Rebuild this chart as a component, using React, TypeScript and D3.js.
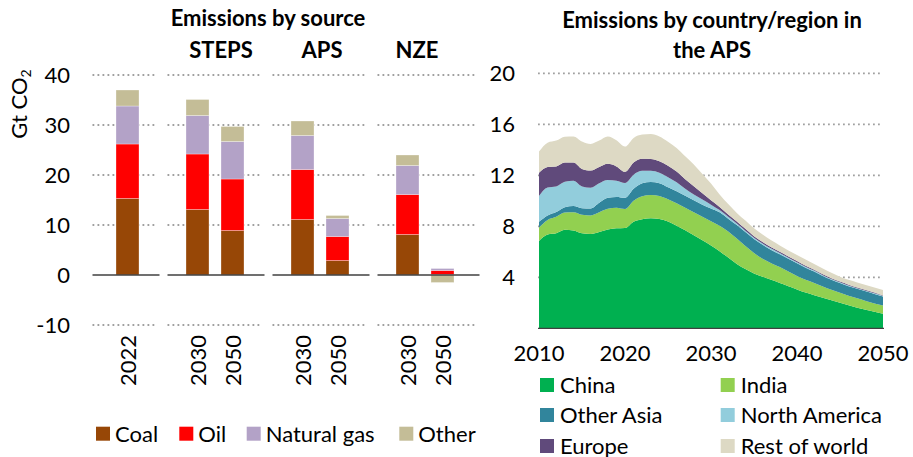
import React from 'react';
import * as d3 from 'd3';

// ---------- Left panel data (Gt CO2) ----------
const barLabels = ['2022', '2030', '2050', '2030', '2050', '2030', '2050'];
const barSlots = [1, 3, 4, 6, 7, 9, 10];
const scenarioNames = ['STEPS', 'APS', 'NZE'];
const coal = [15.3, 13.1, 8.9, 11.1, 2.9, 8.1, 0.1];
const oil = [10.9, 11.1, 10.3, 10.0, 4.8, 8.0, 0.8];
const naturalGas = [7.6, 7.7, 7.5, 6.8, 3.6, 5.8, 0.4];
const otherSrc = [3.2, 3.2, 3.0, 2.9, 0.6, 2.1, -1.5];
const sourceKeys = ['Coal', 'Oil', 'Natural gas', 'Other'];
const sourceColors = ['#974706', '#FF0000', '#B3A2C7', '#C4BD97'];
const leftTicks = [-10, 0, 10, 20, 30, 40];

// ---------- Right panel data (Gt CO2, APS) ----------
const years = [
  2010, 2011, 2012, 2013, 2014, 2015, 2016, 2017, 2018, 2019, 2020, 2021, 2022, 2023,
  2024, 2025, 2026, 2027, 2028, 2029, 2030, 2031, 2032, 2033, 2034, 2035, 2036, 2037,
  2038, 2039, 2040, 2041, 2042, 2043, 2044, 2045, 2046, 2047, 2048, 2049, 2050,
];
const china = [
  6.85, 7.35, 7.45, 7.72, 7.68, 7.45, 7.4, 7.56, 7.75, 7.84, 7.86, 8.36, 8.55, 8.63,
  8.57, 8.37, 8.05, 7.7, 7.3, 6.9, 6.5, 6.05, 5.55, 5.05, 4.65, 4.3, 4.05, 3.8,
  3.55, 3.3, 3.05, 2.8, 2.6, 2.4, 2.2, 2.0, 1.8, 1.62, 1.45, 1.3, 1.15,
];
const india = [
  1.05, 1.15, 1.3, 1.36, 1.42, 1.45, 1.45, 1.54, 1.63, 1.61, 1.49, 1.64, 1.8, 1.83,
  1.81, 1.75, 1.75, 1.75, 1.8, 1.85, 1.9, 2.0, 2.05, 2.0, 1.8, 1.6, 1.4, 1.3,
  1.25, 1.15, 1.05, 1.0, 0.95, 0.88, 0.82, 0.78, 0.75, 0.73, 0.7, 0.65, 0.63,
];
const otherAsia = [
  0.45, 0.35, 0.37, 0.42, 0.5, 0.52, 0.55, 0.75, 0.85, 0.85, 0.89, 0.95, 1.03, 1.02,
  1.0, 0.95, 0.95, 0.95, 0.95, 0.95, 1.0, 1.05, 1.0, 1.05, 1.1, 1.1, 1.1, 1.05,
  1.0, 1.0, 1.0, 0.95, 0.9, 0.82, 0.78, 0.77, 0.75, 0.75, 0.75, 0.75, 0.72,
];
const northAmerica = [
  2.03, 2.2, 2.01, 2.0, 1.97, 1.71, 1.63, 1.53, 1.4, 1.28, 1.16, 1.1, 0.97, 0.87,
  0.82, 0.78, 0.7, 0.55, 0.45, 0.4, 0.3, 0.17, 0.14, 0.12, 0.1, 0.1, 0.1, 0.1,
  0.1, 0.09, 0.09, 0.08, 0.08, 0.07, 0.07, 0.06, 0.06, 0.05, 0.05, 0.05, 0.04,
];
const europe = [
  1.82, 1.6, 1.57, 1.5, 1.43, 1.37, 1.34, 1.27, 1.27, 1.12, 0.87, 0.95, 0.95, 0.93,
  0.9, 0.9, 0.85, 0.75, 0.65, 0.5, 0.35, 0.25, 0.19, 0.16, 0.15, 0.12, 0.11, 0.1,
  0.1, 0.09, 0.09, 0.08, 0.07, 0.07, 0.06, 0.06, 0.06, 0.05, 0.05, 0.05, 0.04,
];
const restOfWorld = [
  1.66, 1.91, 2.02, 2.03, 2.05, 2.15, 2.09, 2.07, 2.14, 2.04, 1.98, 1.93, 1.9, 1.96,
  1.95, 1.89, 1.85, 1.8, 1.7, 1.5, 1.3, 0.98, 0.82, 0.67, 0.65, 0.63, 0.59, 0.55,
  0.5, 0.47, 0.47, 0.49, 0.45, 0.46, 0.42, 0.38, 0.38, 0.4, 0.4, 0.4, 0.42,
];
const regionKeys = ['China', 'India', 'Other Asia', 'North America', 'Europe', 'Rest of world'];
const regionColors = ['#00B050', '#92D050', '#31859C', '#92CDDC', '#604A7B', '#DDD9C4'];
const rightTicks = [4, 8, 12, 16, 20];
const xTicks = [2010, 2020, 2030, 2040, 2050];

const FONT = 'Lato, "Noto Sans", sans-serif';
const FS = 22;
const GRID = '#a0a0a0';

export default function App() {
  // ----- left scales -----
  const yL = d3.scaleLinear().domain([-10, 40]).range([325, 75]);
  const slot = d3.scaleLinear().domain([0, 10]).range([92.5, 442.5]);
  const barW = 23;
  const panels: [number, number][] = [[0, 2], [2, 5], [5, 8], [8, 11]];
  const panelX = panels.map(([a, b]) => [slot(a) + (a === 0 ? 0 : 5), slot(b) - (b === 11 ? 0 : 5)]);

  const barTable = barLabels.map((lab, i) => ({
    i,
    Coal: coal[i],
    Oil: oil[i],
    'Natural gas': naturalGas[i],
    Other: otherSrc[i],
  }));
  const barStack = d3.stack<any>().keys(sourceKeys).offset(d3.stackOffsetDiverging)(barTable);

  // ----- right scales -----
  const yR = d3.scaleLinear().domain([0, 20]).range([328.3, 73.3]);
  const xR = d3.scaleLinear().domain([2010, 2050]).range([539, 883]);
  const regionSeries = [china, india, otherAsia, northAmerica, europe, restOfWorld];
  const areaTable = years.map((yr, j) => {
    const row: any = { year: yr };
    regionKeys.forEach((k, r) => (row[k] = regionSeries[r][j]));
    return row;
  });
  const areaStack = d3.stack<any>().keys(regionKeys)(areaTable);
  const area = d3
    .area<any>()
    .x((d) => xR(d.data.year))
    .y0((d) => yR(d[0]))
    .y1((d) => yR(d[1]))
    .curve(d3.curveMonotoneX);

  const scenarioCenters = [221, 322, 417];

  const leftLegend = [
    { x: 96 },
    { x: 179.3 },
    { x: 246.7 },
    { x: 399.3 },
  ];
  const rightLegendPos = [
    [540, 378],
    [720.7, 378],
    [540, 408],
    [720.7, 408],
    [540, 439],
    [720.7, 439],
  ];

  return (
    <svg
      width={913}
      height={457}
      style={{ position: 'absolute', left: 0, top: 0, background: '#fff' }}
      fontFamily={FONT}
    >
      <rect width={913} height={457} fill="#fff" />
      {/* ===== Left chart ===== */}
      <text x={268} y={26} textAnchor="middle" fontWeight="bold" fontSize={FS}>
        Emissions by source
      </text>
      {scenarioNames.map((s, i) => (
        <text key={s} x={scenarioCenters[i]} y={58} textAnchor="middle" fontWeight="bold" fontSize={FS}>
          {s}
        </text>
      ))}
      <text transform="translate(27,104) rotate(-90)" textAnchor="middle" fontSize={FS}>
        Gt CO<tspan fontSize={14} dy={4}>2</tspan>
      </text>
      {leftTicks.map((t) => (
        <text key={t} x={70} y={yL(t)} dy="0.36em" textAnchor="end" fontSize={FS}>
          {t}
        </text>
      ))}
      {leftTicks
        .filter((t) => t !== 0)
        .map((t) =>
          panelX.map(([x1, x2], p) => (
            <line
              key={`g${t}-${p}`}
              x1={x1}
              x2={x2}
              y1={yL(t)}
              y2={yL(t)}
              stroke={GRID}
              strokeWidth={1.8}
              strokeDasharray="1.8 3.2"
            />
          ))
        )}
      {barStack.map((layer, k) => (
        <g key={layer.key} fill={sourceColors[k]}>
          {layer.map((d, i) => {
            const cx = slot(barSlots[i]);
            const y1 = yL(Math.max(d[0], d[1]));
            const y2 = yL(Math.min(d[0], d[1]));
            return (
              <rect
                key={i}
                x={cx - barW / 2}
                y={y1}
                width={barW}
                height={Math.max(0, y2 - y1)}
                stroke="#ffffff"
                strokeOpacity={0.5}
                strokeWidth={0.6}
              />
            );
          })}
        </g>
      ))}
      {panelX.map(([x1, x2], p) => (
        <line key={`b${p}`} x1={x1} x2={x2 + 2} y1={yL(0)} y2={yL(0)} stroke="#404040" strokeWidth={1.3} />
      ))}
      {barLabels.map((lab, i) => (
        <text
          key={`xl${i}`}
          transform={`translate(${slot(barSlots[i]) + 8},335) rotate(-90)`}
          textAnchor="end"
          fontSize={FS}
        >
          {lab}
        </text>
      ))}
      {sourceKeys.map((k, i) => (
        <g key={k}>
          <rect x={leftLegend[i].x} y={426.7} width={14} height={14} fill={sourceColors[i]} />
          <text x={leftLegend[i].x + 19} y={441.5} fontSize={FS}>
            {k}
          </text>
        </g>
      ))}

      {/* ===== Right chart ===== */}
      <text x={712} y={28} textAnchor="middle" fontWeight="bold" fontSize={FS}>
        Emissions by country/region in
      </text>
      <text x={712} y={58} textAnchor="middle" fontWeight="bold" fontSize={FS}>
        the APS
      </text>
      {rightTicks.map((t) => (
        <g key={t}>
          <line
            x1={538}
            x2={883}
            y1={yR(t)}
            y2={yR(t)}
            stroke={GRID}
            strokeWidth={1.8}
            strokeDasharray="1.8 3.2"
          />
          <text x={515} y={yR(t)} dy="0.36em" textAnchor="end" fontSize={FS}>
            {t}
          </text>
        </g>
      ))}
      {areaStack.map((layer, k) => (
        <path key={layer.key} d={area(layer) || ''} fill={regionColors[k]} />
      ))}
      <line x1={538} x2={884} y1={yR(0)} y2={yR(0)} stroke="#404040" strokeWidth={1.3} />
      {xTicks.map((t) => (
        <text key={t} x={xR(t)} y={361} textAnchor="middle" fontSize={FS}>
          {t}
        </text>
      ))}
      {regionKeys.map((k, i) => (
        <g key={k}>
          <rect x={rightLegendPos[i][0]} y={rightLegendPos[i][1]} width={14} height={14} fill={regionColors[i]} />
          <text x={rightLegendPos[i][0] + 20} y={rightLegendPos[i][1] + 14.5} fontSize={FS}>
            {k}
          </text>
        </g>
      ))}
    </svg>
  );
}
